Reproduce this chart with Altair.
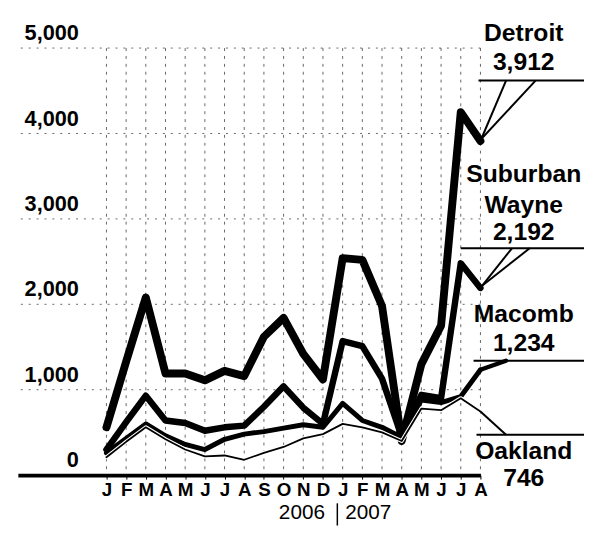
import altair as alt
import pandas as pd

# ---------------- data ----------------
months = ["J", "F", "M", "A", "M", "J", "J", "A", "S", "O", "N", "D",
          "J", "F", "M", "A", "M", "J", "J", "A"]
years = ["2006", "2007"]
y_tick_values = [0, 1000, 2000, 3000, 4000, 5000]
y_tick_labels = ["0", "1,000", "2,000", "3,000", "4,000", "5,000"]

detroit = [560, 1330, 2080, 1190, 1190, 1110, 1220, 1160, 1620, 1840, 1420, 1120,
           2540, 2520, 1980, 400, 1300, 1750, 4250, 3912]
suburban_wayne = [300, 620, 930, 640, 610, 520, 560, 580, 800, 1040, 790, 600,
                  1570, 1510, 1130, 450, 940, 900, 2480, 2192]
macomb = [260, 430, 600, 460, 360, 300, 420, 480, 510, 550, 590, 560,
          840, 640, 560, 440, 880, 850, 920, 1234]
oakland = [210, 390, 560, 420, 300, 220, 230, 180, 260, 330, 430, 480,
           600, 560, 500, 400, 780, 760, 900, 746]

end_labels = ["Detroit", "3,912", "Suburban", "Wayne", "2,192",
              "Macomb", "1,234", "Oakland", "746"]
end_label_y = [5173, 4838, 3522, 3160, 2841, 1882, 1547, 285, -40]

idx = list(range(len(months)))
FONT = "Liberation Sans"

# ---------------- shared scales / axes ----------------
xscale = alt.Scale(domain=[-4.5, 19], nice=False, zero=False)
yscale = alt.Scale(domain=[0, 5000], nice=False, zero=False)
month_expr = "[" + ",".join("'%s'" % m for m in months) + "][datum.value]"
xaxis = alt.Axis(values=idx, labelExpr=month_expr, title="", grid=False,
                 domain=True, domainColor="black", domainWidth=4,
                 ticks=True, tickColor="black", tickSize=4, tickWidth=1,
                 labelFont=FONT, labelFontSize=19, labelFontWeight="bold",
                 labelColor="black", labelPadding=2, labelAngle=0,
                 labelOverlap=False, labelFlush=False, labelBound=False)


def X(field):
    return alt.X(field, type="quantitative", scale=xscale, axis=xaxis)


def Y(field):
    return alt.Y(field, type="quantitative", scale=yscale, axis=None)


# ---------------- grid ----------------
hgrid = alt.Chart(pd.DataFrame({"v": y_tick_values[1:]})).mark_rule(
    color="black", strokeWidth=1, strokeDash=[2, 6], opacity=0.6
).encode(y=Y("v"))

vgrid = alt.Chart(pd.DataFrame({"i": idx})).mark_rule(
    color="black", strokeWidth=1, strokeDash=[3, 5], opacity=0.6
).encode(x=X("i"))

ylabels = alt.Chart(pd.DataFrame({"v": y_tick_values, "t": y_tick_labels,
                                  "lx": [-1.4] * len(y_tick_values)})).mark_text(
    align="right", baseline="alphabetic", dy=-8, font=FONT, fontSize=22,
    fontWeight="bold", color="black"
).encode(x=X("lx"), y=Y("v"), text="t:N")


# ---------------- lines ----------------
def line(vals, width, color="black"):
    d = pd.DataFrame({"idx": idx, "value": vals})
    return alt.Chart(d).mark_line(
        color=color, strokeWidth=width, strokeJoin="round", strokeCap="round"
    ).encode(x=X("idx"), y=Y("value"))


l_det = line(detroit, 8)
l_sub = line(suburban_wayne, 6.5)
l_mac = line(macomb, 5)
l_oak_halo = line(oakland, 4, "white")
l_oak = line(oakland, 1.8)

# ---------------- leaders / annotations ----------------
thin_rules = pd.DataFrame({
    "x":  [18.9, 20.3, 21.8, 18.0, 20.6, 21.5, 18.65, 18.8, 19.0],
    "x2": [24.3, 19.0, 19.1, 24.3, 19.0, 19.1, 24.3, 24.3, 20.3],
    "y":  [4619, 4619, 4619, 2656, 2656, 2656, 1339, 473, 746],
    "y2": [4619, 3912, 3950, 2656, 2192, 2220, 1339, 473, 473],
})
leaders = alt.Chart(thin_rules).mark_rule(color="black", strokeWidth=2).encode(
    x=X("x"), x2=alt.X2("x2"), y=Y("y"), y2=alt.Y2("y2"))

thick_rules = pd.DataFrame({"x": [19.0], "x2": [20.3], "y": [1234], "y2": [1339]})
leader_mac = alt.Chart(thick_rules).mark_rule(color="black", strokeWidth=4.5,
                                              strokeCap="round").encode(
    x=X("x"), x2=alt.X2("x2"), y=Y("y"), y2=alt.Y2("y2"))

lab_df = pd.DataFrame({"t": end_labels, "y": end_label_y,
                       "x": [21.2] * len(end_labels)})
end_text = alt.Chart(lab_df).mark_text(
    align="center", baseline="middle", font=FONT, fontSize=25,
    fontWeight="bold", color="black"
).encode(x=X("x"), y=Y("y"), text="t:N")

year_df = pd.DataFrame({"t": years, "x": [9.93, 13.3], "y": [-450, -450]})
year_text = alt.Chart(year_df).mark_text(
    align="center", baseline="middle", font=FONT, fontSize=21, color="black"
).encode(x=X("x"), y=Y("y"), text="t:N")

sep = alt.Chart(pd.DataFrame({"x": [11.73], "y": [-330], "y2": [-590]})).mark_rule(
    color="black", strokeWidth=1.5).encode(x=X("x"), y=Y("y"), y2=alt.Y2("y2"))

chart = alt.layer(
    vgrid, hgrid, ylabels, l_oak, l_mac, l_sub, l_det, l_oak_halo, l_oak,
    leaders, leader_mac, end_text, year_text, sep
).properties(
    width=469, height=433,
    autosize=alt.AutoSizeParams(type="none"),
    padding={"left": 10, "top": 37, "right": 105, "bottom": 52},
    background="white",
).configure_view(strokeWidth=0)

chart.save("out.html", embed_options={"renderer": "svg", "actions": False})
